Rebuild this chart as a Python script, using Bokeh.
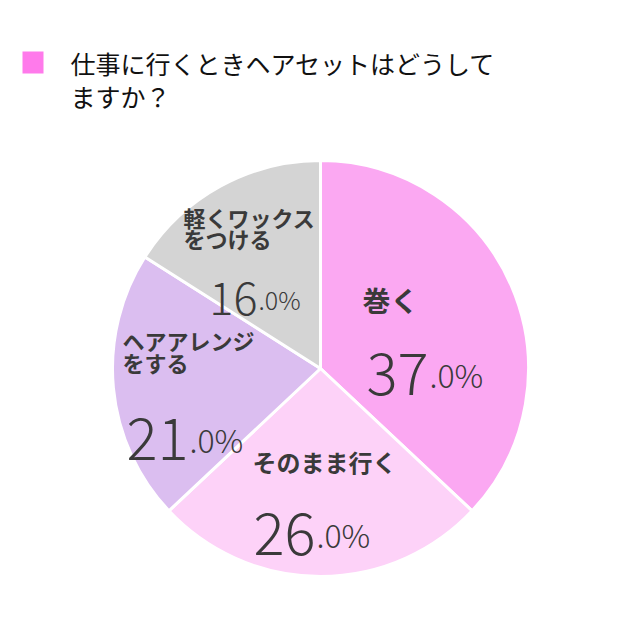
import math
from bokeh.plotting import figure
from bokeh.models import Range1d, ColumnDataSource
from bokeh.core.properties import value
from bokeh.embed import file_html
from bokeh.resources import INLINE

# ---- data ----
title_lines = ["仕事に行くときヘアセットはどうして", "ますか？"]
categories = ["巻く", "そのまま行く", "ヘアアレンジ\nをする", "軽くワックス\nをつける"]
percents = [37.0, 26.0, 21.0, 16.0]
colors = ["#FBA8F2", "#FDD2F8", "#DBBEF0", "#D4D4D4"]

# ---- layout ----
W, H = 624, 621
def px(x):
    return x
def py(y):
    return H - y

CX, CY, R = px(320), py(368), 208
# per-slice label layout: (label x, first line centre y, label font, line step, number junction x, number baseline y, big font, small font)
layout = [
    (362, 299, 28, 0, 428, 373, 58, 32),
    (252, 461, 24, 0, 315, 533, 58, 32),
    (122, 339, 22, 22, 188, 438, 58, 32),
    (183, 216, 22, 21, 257, 298, 45, 25),
]

p = figure(width=W, height=H, x_range=Range1d(0, W), y_range=Range1d(0, H),
           x_axis_type=None, y_axis_type=None, toolbar_location=None,
           output_backend="svg", min_border=0, outline_line_color=None,
           background_fill_color="white", border_fill_color="white")
p.grid.visible = False

# wedges
total = sum(percents)
starts, ends = [], []
cum = 0.0
for v in percents:
    starts.append(math.pi / 2 - 2 * math.pi * cum / total)
    cum += v
    ends.append(math.pi / 2 - 2 * math.pi * cum / total)
src = ColumnDataSource(dict(start=starts, end=ends, color=colors))
p.wedge(x=CX, y=CY, radius=R, start_angle="start", end_angle="end", direction="clock",
        fill_color="color", line_color="white", line_width=3, source=src)

# title
p.quad(left=[px(22)], right=[px(43)], bottom=[py(73)], top=[py(51)],
       fill_color="#FF7AEB", line_color=None)
p.text(x=[px(70), px(70)], y=[py(62), py(95)], text=title_lines,
       text_font=value("Noto Sans CJK JP"), text_font_size="25px",
       text_color="#111111", text_baseline="middle", text_align="left")

# labels
lx, ly, lt, lf = [], [], [], []
bx, by, bt, bf = [], [], [], []
sx, sy, st, sf = [], [], [], []
for cat, val, (x0, y0, fs, step, jx, jy, big, small) in zip(categories, percents, layout):
    for i, line in enumerate(cat.split("\n")):
        lx.append(px(x0)); ly.append(py(y0 + i * step)); lt.append(line); lf.append(f"{fs}px")
    s = f"{val:.1f}%"
    ip, rest = s.split(".")
    bx.append(px(jx)); by.append(py(jy)); bt.append(ip); bf.append(f"{big}px")
    sx.append(px(jx + 1)); sy.append(py(jy)); st.append("." + rest); sf.append(f"{small}px")

common = dict(text_color="#3A3A3A")
p.text(x=lx, y=ly, text=lt, text_font_size=lf, text_font=value("Noto Sans CJK JP"),
       text_font_style="bold", text_baseline="middle", text_align="left", **common)
p.text(x=bx, y=by, text=bt, text_font_size=bf, text_font=value("Noto Sans CJK JP Light"),
       text_baseline="alphabetic", text_align="right", **common)
p.text(x=sx, y=sy, text=st, text_font_size=sf, text_font=value("Noto Sans CJK JP Light"),
       text_baseline="alphabetic", text_align="left", **common)

open("out.html", "w").write(file_html(p, INLINE))
